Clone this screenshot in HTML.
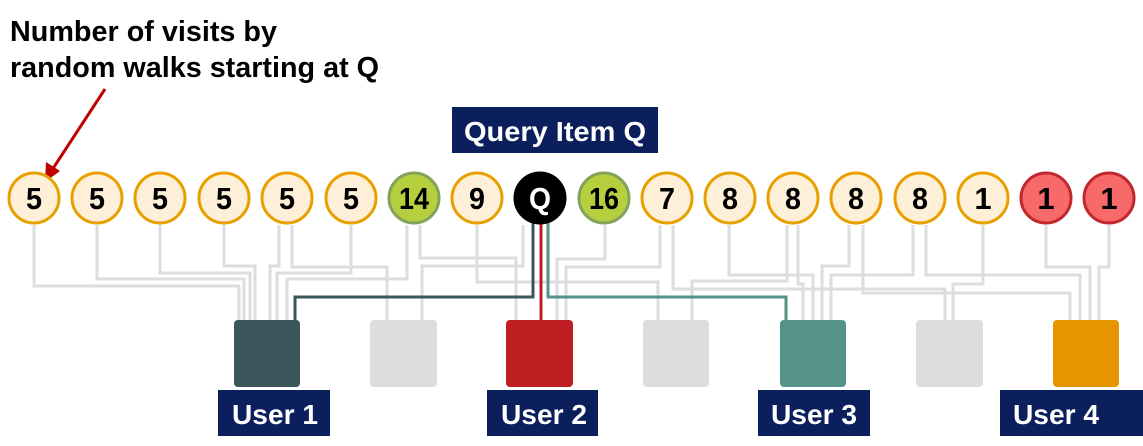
<!DOCTYPE html>
<html><head><meta charset="utf-8"><style>
html,body{margin:0;padding:0;background:#fff;}
svg{display:block;}
text{font-family:"Liberation Sans",Arial,sans-serif;font-weight:bold;}
</style></head><body>
<svg width="1143" height="446" viewBox="0 0 1143 446" xmlns="http://www.w3.org/2000/svg">
<g fill="none" stroke="#dcdddf" stroke-width="3">
<polyline points="34,225 34,286 239,286 239,320"/>
<polyline points="97,225 97,279 244,279 244,320"/>
<polyline points="160,225 160,273 250,273 250,320"/>
<polyline points="224,225 224,266 255,266 255,320"/>
<polyline points="279,225 279,266 270,266 270,320"/>
<polyline points="351,225 351,273 277,273 277,320"/>
<polyline points="407,225 407,279 287,279 287,320"/>
<polyline points="292,225 292,267 387,267 387,320"/>
<polyline points="420,225 420,258 516,258 516,320"/>
<polyline points="523,225 523,266 422,266 422,320"/>
<polyline points="477,225 477,282 658,282 658,320"/>
<polyline points="605,225 605,259 557,259 557,320"/>
<polyline points="660,225 660,267 566,267 566,320"/>
<polyline points="673,225 673,289 945,289 945,320"/>
<polyline points="787,225 787,281 692,281 692,320"/>
<polyline points="729,225 729,275 813,275 813,320"/>
<polyline points="798,225 798,284 803,284 803,320"/>
<polyline points="849,225 849,266 822,266 822,320"/>
<polyline points="863,225 863,293 1070,293 1070,320"/>
<polyline points="913,225 913,275 831,275 831,320"/>
<polyline points="926,225 926,275 1080,275 1080,320"/>
<polyline points="983,225 983,284 953,284 953,320"/>
<polyline points="1046,225 1046,267 1090,267 1090,320"/>
<polyline points="1109,225 1109,267 1099,267 1099,320"/>
</g>
<polyline points="533,222 533,297 295,297 295,320" fill="none" stroke="#3a565b" stroke-width="3"/>
<polyline points="541,222 541,320" fill="none" stroke="#be1e22" stroke-width="3"/>
<polyline points="548,222 548,297 786,297 786,320" fill="none" stroke="#559287" stroke-width="3"/>
<g>
<rect x="234" y="320" width="66" height="67" rx="4" fill="#3a565b"/>
<rect x="370" y="320" width="67" height="67" rx="4" fill="#dcdddf"/>
<rect x="506" y="320" width="67" height="67" rx="4" fill="#be1e22"/>
<rect x="643" y="320" width="66" height="67" rx="4" fill="#dcdddf"/>
<rect x="780" y="320" width="66" height="67" rx="4" fill="#559287"/>
<rect x="916" y="320" width="67" height="67" rx="4" fill="#dcdddf"/>
<rect x="1053" y="320" width="66" height="67" rx="4" fill="#e69500"/>
</g>
<g fill="#0a1f5c">
<rect x="218" y="390" width="112" height="46"/>
<rect x="487" y="390" width="111" height="46"/>
<rect x="758" y="390" width="112" height="46"/>
<rect x="1000" y="390" width="143" height="46"/>
<rect x="452" y="107" width="206" height="46"/>
</g>
<g fill="#fff" font-size="28">
<text x="232" y="424" textLength="86" lengthAdjust="spacingAndGlyphs">User 1</text>
<text x="501" y="424" textLength="86" lengthAdjust="spacingAndGlyphs">User 2</text>
<text x="771" y="424" textLength="86" lengthAdjust="spacingAndGlyphs">User 3</text>
<text x="1013" y="424" textLength="86" lengthAdjust="spacingAndGlyphs">User 4</text>
<text x="464" y="141" textLength="182" lengthAdjust="spacingAndGlyphs">Query Item Q</text>
</g>
<g font-size="29" fill="#000">
<text x="10" y="41" textLength="267" lengthAdjust="spacingAndGlyphs">Number of visits by</text>
<text x="10" y="77" textLength="369" lengthAdjust="spacingAndGlyphs">random walks starting at Q</text>
</g>
<line x1="105" y1="89" x2="52" y2="170" stroke="#c00000" stroke-width="3"/>
<polygon points="45,182 46,162 60,171" fill="#c00000"/>
<g stroke-width="3">
<circle cx="34" cy="198" r="25" fill="#fef0d8" stroke="#e8a000"/>
<circle cx="97" cy="198" r="25" fill="#fef0d8" stroke="#e8a000"/>
<circle cx="160" cy="198" r="25" fill="#fef0d8" stroke="#e8a000"/>
<circle cx="224" cy="198" r="25" fill="#fef0d8" stroke="#e8a000"/>
<circle cx="287" cy="198" r="25" fill="#fef0d8" stroke="#e8a000"/>
<circle cx="351" cy="198" r="25" fill="#fef0d8" stroke="#e8a000"/>
<circle cx="414" cy="198" r="25" fill="#b5cf3f" stroke="#84a35a"/>
<circle cx="477" cy="198" r="25" fill="#fef0d8" stroke="#e8a000"/>
<circle cx="540" cy="198" r="25" fill="#000" stroke="#000"/>
<circle cx="604" cy="198" r="25" fill="#b5cf3f" stroke="#84a35a"/>
<circle cx="667" cy="198" r="25" fill="#fef0d8" stroke="#e8a000"/>
<circle cx="730" cy="198" r="25" fill="#fef0d8" stroke="#e8a000"/>
<circle cx="793" cy="198" r="25" fill="#fef0d8" stroke="#e8a000"/>
<circle cx="856" cy="198" r="25" fill="#fef0d8" stroke="#e8a000"/>
<circle cx="920" cy="198" r="25" fill="#fef0d8" stroke="#e8a000"/>
<circle cx="983" cy="198" r="25" fill="#fef0d8" stroke="#e8a000"/>
<circle cx="1046" cy="198" r="25" fill="#f86a6a" stroke="#c1272d"/>
<circle cx="1109" cy="198" r="25" fill="#f86a6a" stroke="#c1272d"/>
</g>
<g font-size="31" text-anchor="middle" fill="#000">
<text x="34" y="209" textLength="16" lengthAdjust="spacingAndGlyphs">5</text><text x="97" y="209" textLength="16" lengthAdjust="spacingAndGlyphs">5</text><text x="160" y="209" textLength="16" lengthAdjust="spacingAndGlyphs">5</text>
<text x="224" y="209" textLength="16" lengthAdjust="spacingAndGlyphs">5</text><text x="287" y="209" textLength="16" lengthAdjust="spacingAndGlyphs">5</text><text x="351" y="209" textLength="16" lengthAdjust="spacingAndGlyphs">5</text>
<text x="414" y="209" textLength="30" lengthAdjust="spacingAndGlyphs">14</text>
<text x="477" y="209" textLength="16" lengthAdjust="spacingAndGlyphs">9</text>
<text x="540" y="209" fill="#fff" textLength="22" lengthAdjust="spacingAndGlyphs">Q</text>
<text x="604" y="209" textLength="30" lengthAdjust="spacingAndGlyphs">16</text>
<text x="667" y="209" textLength="16" lengthAdjust="spacingAndGlyphs">7</text><text x="730" y="209" textLength="16" lengthAdjust="spacingAndGlyphs">8</text><text x="793" y="209" textLength="16" lengthAdjust="spacingAndGlyphs">8</text>
<text x="856" y="209" textLength="16" lengthAdjust="spacingAndGlyphs">8</text><text x="920" y="209" textLength="16" lengthAdjust="spacingAndGlyphs">8</text><text x="983" y="209">1</text>
<text x="1046" y="209">1</text><text x="1109" y="209">1</text>
</g>
</svg>
</body></html>
